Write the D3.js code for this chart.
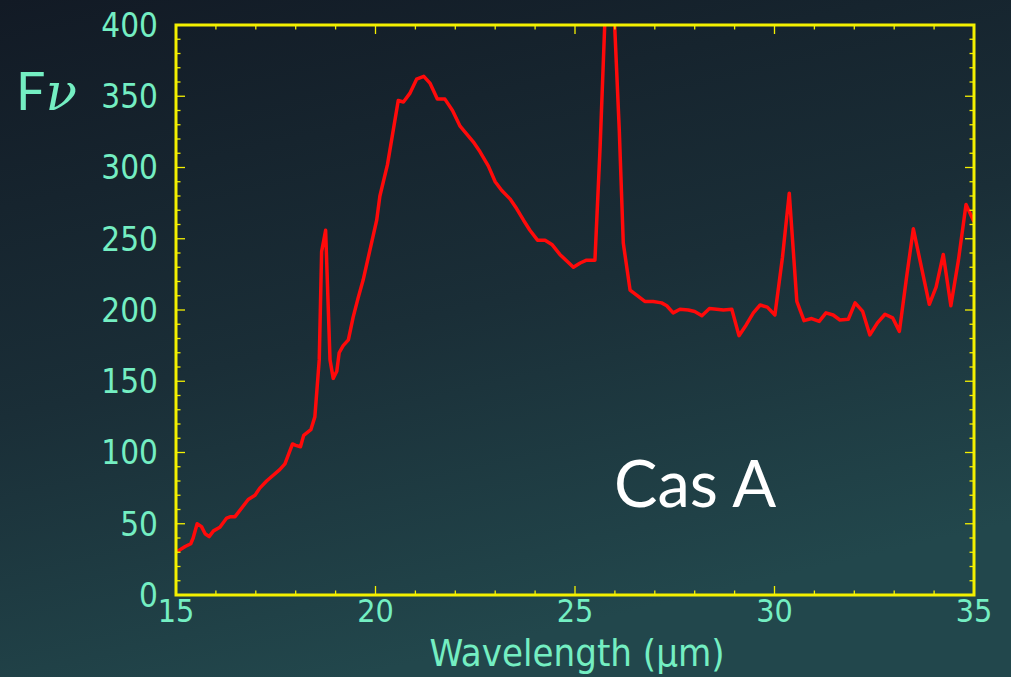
<!DOCTYPE html>
<html>
<head>
<meta charset="utf-8">
<script src="https://cdn.jsdelivr.net/npm/d3@7"></script>
<style>
  html, body { margin: 0; padding: 0; background: #16222c; }
  svg { display: block; }
</style>
</head>
<body>
<svg id="chart" width="1011" height="677"></svg>
<script>
// Cas A mid-infrared spectrum: flux density vs wavelength
const wavelength = [
  15.0, 15.23, 15.37, 15.43, 15.53, 15.64, 15.73, 15.83, 15.94, 16.1,
  16.27, 16.37, 16.48, 16.81, 16.98, 17.1, 17.27, 17.6, 17.73, 17.92,
  18.0, 18.12, 18.2, 18.38, 18.48, 18.59, 18.65, 18.75, 18.86, 18.94,
  19.03, 19.09, 19.19, 19.32, 19.44, 19.57, 19.69, 19.86, 20.03, 20.11,
  20.3, 20.57, 20.7, 20.86, 21.03, 21.21, 21.37, 21.55, 21.74, 21.93,
  22.12, 22.24, 22.45, 22.62, 22.83, 23.0, 23.16, 23.37, 23.54, 23.71,
  23.87, 24.06, 24.25, 24.42, 24.62, 24.96, 25.13, 25.29, 25.5, 25.63,
  25.86, 26.11, 26.21, 26.38, 26.75, 26.96, 27.17, 27.3, 27.46, 27.63,
  27.84, 28.0, 28.18, 28.37, 28.55, 28.72, 28.93, 29.11, 29.29, 29.47,
  29.64, 29.82, 30.01, 30.2, 30.37, 30.56, 30.74, 30.93, 31.12, 31.29,
  31.47, 31.64, 31.85, 32.02, 32.21, 32.39, 32.58, 32.77, 32.96, 33.13,
  33.31, 33.48, 33.69, 33.88, 34.05, 34.23, 34.42, 34.61, 34.8, 35.0
];
const flux = [
  30, 34, 36, 40, 50, 48, 43, 41, 45, 47.5,
  54, 55, 55, 67, 70, 75, 80, 88, 92, 106,
  105, 104, 112, 116, 125, 165, 241, 256, 165, 152,
  157, 170, 175, 179, 195, 209, 221, 242, 263, 280,
  302, 347, 346, 352, 362, 364, 359, 348, 348, 340,
  329, 325, 318, 311, 301, 290, 284, 278, 271, 263,
  256, 249, 249, 246, 239, 230, 233, 235, 235, 315,
  485, 326, 247, 214, 206, 206, 205, 203, 198, 200.5,
  200, 199, 196, 201, 200.5, 200, 200.5, 182, 189.5, 198,
  203.5, 202, 196.5, 237, 282, 206, 192.5, 194, 192, 198,
  196.5, 193, 193.5, 205, 199, 182.5, 191, 197, 194.5, 185,
  223, 257, 229, 204, 216, 239, 203, 235, 274, 262
];

const xTicks = [15, 20, 25, 30, 35];
const yTicks = [0, 50, 100, 150, 200, 250, 300, 350, 400];
const xMinorTicks = d3.range(15, 36, 1);
const yMinorTicks = d3.range(0, 401, 10);

const W = 1011, H = 677;
const plot = { left: 176, right: 974, top: 25, bottom: 595 };

const svg = d3.select("#chart");
const defs = svg.append("defs");

// background gradient: dark navy to dark teal
const grad = defs.append("linearGradient")
  .attr("id", "bg").attr("x1", "0").attr("y1", "0").attr("x2", "0.35").attr("y2", "1");
grad.append("stop").attr("offset", "0%").attr("stop-color", "#121a25");
grad.append("stop").attr("offset", "55%").attr("stop-color", "#1a2e37");
grad.append("stop").attr("offset", "100%").attr("stop-color", "#22474c");
svg.append("rect").attr("width", W).attr("height", H).attr("fill", "url(#bg)");

defs.append("clipPath").attr("id", "plotclip")
  .append("rect")
  .attr("x", plot.left).attr("y", plot.top)
  .attr("width", plot.right - plot.left).attr("height", plot.bottom - plot.top);

const x = d3.scaleLinear().domain([15, 35]).range([plot.left, plot.right]);
const y = d3.scaleLinear().domain([0, 400]).range([plot.bottom, plot.top]);

const yellow = "#f4f000";
const labelColor = "#74eec2";
const labelFont = "'Comic Sans MS', 'DejaVu Sans Condensed', 'DejaVu Sans', sans-serif";

// spectrum line
const line = d3.line().x((d, i) => x(wavelength[i])).y(d => y(d));
svg.append("path")
  .datum(flux)
  .attr("clip-path", "url(#plotclip)")
  .attr("d", line)
  .attr("fill", "none")
  .attr("stroke", "#ff0a0a")
  .attr("stroke-width", 3.5)
  .attr("stroke-linejoin", "round");

// inward ticks on all four sides
const ticks = svg.append("g").attr("stroke", yellow).attr("stroke-width", 1.3);
xMinorTicks.forEach(v => {
  const len = (v % 5 === 0) ? 9 : 4.5;
  ticks.append("line").attr("x1", x(v)).attr("x2", x(v))
    .attr("y1", plot.bottom).attr("y2", plot.bottom - len);
  ticks.append("line").attr("x1", x(v)).attr("x2", x(v))
    .attr("y1", plot.top).attr("y2", plot.top + len);
});
yMinorTicks.forEach(v => {
  const len = (v % 50 === 0) ? 9 : 4.5;
  ticks.append("line").attr("y1", y(v)).attr("y2", y(v))
    .attr("x1", plot.left).attr("x2", plot.left + len);
  ticks.append("line").attr("y1", y(v)).attr("y2", y(v))
    .attr("x1", plot.right).attr("x2", plot.right - len);
});

// frame
svg.append("rect")
  .attr("x", plot.left).attr("y", plot.top)
  .attr("width", plot.right - plot.left).attr("height", plot.bottom - plot.top)
  .attr("fill", "none").attr("stroke", yellow).attr("stroke-width", 3);

// tick labels
svg.append("g").selectAll("text").data(yTicks).join("text")
  .attr("x", 158).attr("y", d => y(d)).attr("dy", "0.36em")
  .attr("text-anchor", "end")
  .attr("fill", labelColor).attr("font-family", labelFont).attr("font-size", 33)
  .text(d => d);

svg.append("g").selectAll("text").data(xTicks).join("text")
  .attr("x", d => x(d)).attr("y", 622)
  .attr("text-anchor", "middle")
  .attr("fill", labelColor).attr("font-family", labelFont).attr("font-size", 32)
  .text(d => d);

// axis titles
svg.append("text")
  .attr("x", 577).attr("y", 666)
  .attr("text-anchor", "middle")
  .attr("fill", labelColor).attr("font-family", labelFont).attr("font-size", 38)
  .text("Wavelength (\u03BCm)");

const fnu = svg.append("text")
  .attr("x", 16).attr("y", 110)
  .attr("fill", labelColor).attr("font-size", 52);
fnu.append("tspan").attr("font-family", "'Lato', 'DejaVu Sans', sans-serif").text("F");
fnu.append("tspan").attr("font-family", "'DejaVu Serif', 'Liberation Serif', serif")
  .attr("font-style", "italic").text("\u03BD");

// object name
svg.append("text")
  .attr("x", 614).attr("y", 507)
  .attr("fill", "#ffffff")
  .attr("font-family", "'Lato', 'Open Sans', sans-serif")
  .attr("font-size", 65)
  .text("Cas A");
</script>
</body>
</html>
